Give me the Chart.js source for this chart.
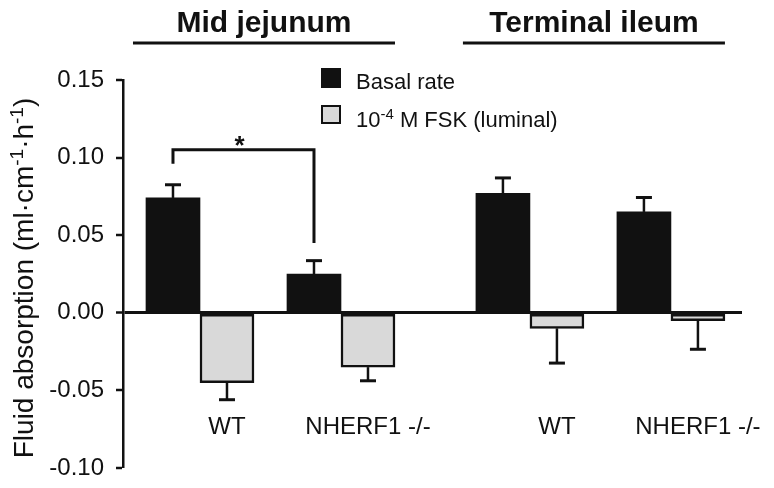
<!DOCTYPE html>
<html>
<head>
<meta charset="utf-8">
<script src="https://cdn.jsdelivr.net/npm/chart.js@4.4.0/dist/chart.umd.min.js"></script>
<style>
  html, body { margin: 0; padding: 0; background: #fff; }
  #wrap { width: 774px; height: 488px; }
</style>
</head>
<body>
<div id="wrap"><canvas id="chart" width="774" height="488"></canvas></div>
<script>
// data
const groups = ["Mid jejunum", "Terminal ileum"];
const categories = ["WT", "NHERF1 -/-", "WT", "NHERF1 -/-"];
const categoryGroup = [0, 0, 1, 1];
const seriesNames = ["Basal rate", "10^{-4} M FSK (luminal)"];
const basal = [0.074, 0.025, 0.077, 0.065];
const basalErr = [0.0085, 0.0086, 0.0099, 0.0093];
const fsk = [-0.045, -0.035, -0.010, -0.005];
const fskErr = [0.011, 0.0088, 0.0224, 0.0185];
const yTicks = [-0.10, -0.05, 0.00, 0.05, 0.10, 0.15];
const yTitle = "Fluid absorption (ml·cm^{-1}·h^{-1})";
// significance bracket between the basal bars of WT and NHERF1 (mid jejunum)
const sigPair = [0, 1];
const sigLevel = 0.105;
const sigLegEnds = [0.096, 0.045];
const sigMark = "*";

const FONT = '"Liberation Sans", Arial, Helvetica, sans-serif';
const INK = "#111";
const groupGap = 0.34;
const xPos = categories.map((c, i) => i + categoryGroup[i] * groupGap);

// text with ^{...} superscripts
function drawRich(ctx, text, x, y, size, align) {
  const parts = text.split(/\^\{([^}]*)\}/);
  const supSize = Math.round(size * 0.68);
  let w = 0;
  parts.forEach((p, i) => {
    ctx.font = (i % 2 ? supSize : size) + "px " + FONT;
    w += ctx.measureText(p).width;
  });
  let cx = align === "center" ? x - w / 2 : x;
  ctx.textAlign = "left";
  ctx.textBaseline = "alphabetic";
  parts.forEach((p, i) => {
    const sup = i % 2 === 1;
    ctx.font = (sup ? supSize : size) + "px " + FONT;
    ctx.fillText(p, cx, sup ? y - size * 0.36 : y);
    cx += ctx.measureText(p).width;
  });
}

const extras = {
  id: "extras",
  afterDatasetsDraw(chart) {
    const ctx = chart.ctx;
    const y = chart.scales.y;
    const area = chart.chartArea;
    const black = chart.getDatasetMeta(0).data;
    const gray = chart.getDatasetMeta(1).data;
    ctx.save();
    ctx.strokeStyle = INK;
    ctx.fillStyle = INK;
    ctx.lineCap = "butt";

    // error bars
    chart.data.datasets.forEach((ds, di) => {
      chart.getDatasetMeta(di).data.forEach((bar, i) => {
        const v = ds.data[i].y;
        const end = v >= 0 ? v + ds.err[i] : v - ds.err[i];
        const py = y.getPixelForValue(end);
        ctx.lineWidth = 2.5;
        ctx.beginPath();
        ctx.moveTo(bar.x, bar.y);
        ctx.lineTo(bar.x, py);
        ctx.stroke();
        ctx.lineWidth = 3;
        ctx.beginPath();
        ctx.moveTo(bar.x - 8, py);
        ctx.lineTo(bar.x + 8, py);
        ctx.stroke();
      });
    });

    // category labels under the FSK bars
    ctx.font = "24px " + FONT;
    ctx.textAlign = "center";
    ctx.textBaseline = "alphabetic";
    categories.forEach((c, i) => ctx.fillText(c, gray[i].x, area.bottom - 34));

    // group titles with underline
    groups.forEach((g, gi) => {
      const idx = categoryGroup.map((v, i) => v === gi ? i : -1).filter(i => i >= 0);
      const first = black[idx[0]], last = gray[idx[idx.length - 1]];
      const x1 = first.x - first.width / 2 - 13;
      const x2 = last.x + last.width / 2;
      ctx.lineWidth = 3;
      ctx.beginPath();
      ctx.moveTo(x1, 43);
      ctx.lineTo(x2, 43);
      ctx.stroke();
      ctx.font = "bold 30px " + FONT;
      ctx.textAlign = "center";
      ctx.fillText(g, (x1 + x2) / 2, 32);
    });

    // legend
    const lx = 321;
    ctx.fillStyle = chart.data.datasets[0].backgroundColor;
    ctx.fillRect(lx, 68, 20, 20);
    ctx.fillStyle = chart.data.datasets[1].backgroundColor;
    ctx.fillRect(lx, 105, 20, 19);
    ctx.lineWidth = 2;
    ctx.strokeRect(lx + 1, 106, 18, 17);
    ctx.fillStyle = INK;
    drawRich(ctx, chart.data.datasets[0].label, 356, 89, 22, "left");
    drawRich(ctx, chart.data.datasets[1].label, 356, 127, 22, "left");

    // significance bracket
    const bx1 = black[sigPair[0]].x, bx2 = black[sigPair[1]].x;
    const by = y.getPixelForValue(sigLevel);
    ctx.lineWidth = 3;
    ctx.beginPath();
    ctx.moveTo(bx1, y.getPixelForValue(sigLegEnds[0]));
    ctx.lineTo(bx1, by);
    ctx.lineTo(bx2, by);
    ctx.lineTo(bx2, y.getPixelForValue(sigLegEnds[1]));
    ctx.stroke();
    ctx.font = "bold 26px " + FONT;
    ctx.textAlign = "center";
    ctx.fillText(sigMark, (bx1 + bx2) / 2 - 4, by + 4);

    // y axis title
    ctx.save();
    ctx.translate(33, 278);
    ctx.rotate(-Math.PI / 2);
    drawRich(ctx, yTitle, 0, 0, 28, "center");
    ctx.restore();

    ctx.restore();
  }
};

new Chart(document.getElementById("chart"), {
  type: "bar",
  data: {
    datasets: [
      {
        label: seriesNames[0],
        data: basal.map((v, i) => ({ x: xPos[i], y: v })),
        err: basalErr,
        backgroundColor: INK,
        borderColor: INK,
        borderWidth: 0
      },
      {
        label: seriesNames[1],
        data: fsk.map((v, i) => ({ x: xPos[i], y: v })),
        err: fskErr,
        backgroundColor: "#d9d9d9",
        borderColor: INK,
        borderWidth: 2.5,
        borderSkipped: false
      }
    ]
  },
  options: {
    responsive: false,
    animation: false,
    barThickness: 54,
    layout: { padding: { top: 80, right: 32, bottom: 20, left: 0 } },
    plugins: { legend: { display: false }, tooltip: { enabled: false } },
    scales: {
      x: { type: "linear", display: false, offset: false, min: -0.546, max: 3.844 },
      y: {
        min: -0.1,
        max: 0.15,
        afterBuildTicks: (s) => { s.ticks = yTicks.map(v => ({ value: v })); },
        afterFit: (s) => { s.width = 123; s.paddingTop = 0; s.paddingBottom = 0; },
        ticks: {
          callback: (v) => v.toFixed(2),
          font: { family: FONT, size: 24 },
          color: INK,
          padding: 12
        },
        grid: {
          color: (c) => (c.tick && c.tick.value === 0 ? INK : "rgba(0,0,0,0)"),
          lineWidth: (c) => (c.tick && c.tick.value === 0 ? 3 : 0),
          tickColor: INK,
          tickWidth: 2.5,
          tickLength: 7
        },
        border: { display: true, color: INK, width: 2.5 }
      }
    }
  },
  plugins: [extras]
});
</script>
</body>
</html>
